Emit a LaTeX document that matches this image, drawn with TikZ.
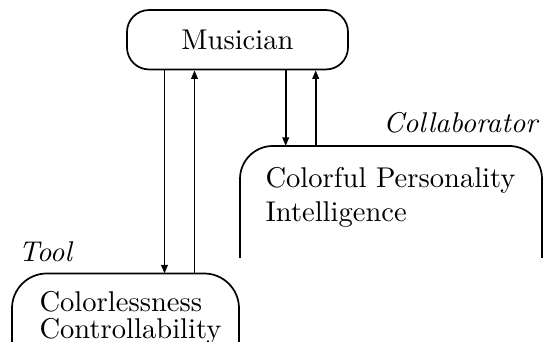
\documentclass[tikz,border=0pt]{standalone}
\usetikzlibrary{arrows.meta}
\begin{document}
\begin{tikzpicture}[x=0.35pt,y=-0.35pt,
  boxline/.style={line width=0.6pt},
  arr/.style={line width=0.6pt,-{Triangle[length=3pt,width=2.3pt]}},
  lbl/.style={inner sep=0pt,font=\itshape},
  body/.style={anchor=base west,inner sep=0pt}]
\useasboundingbox (0,0) rectangle (545,342);
% Musician
\node[boxline,draw,rounded corners=7.7pt,minimum width=77.35pt,minimum height=20.8pt,inner sep=0pt] (mus) at (237.5,39.75) {Musician};
% Collaborator box
\draw[boxline,rounded corners=11.5pt] (240,258) -- (240,146) -- (542,146) -- (542,258);
\coordinate (colin) at (285.7,146);
\coordinate (colout) at (315.7,146);
\node[lbl,anchor=base east] (collab) at (538,133) {Collaborator};
\node[body] (cp) at (265,188) {Colorful Personality};
\node[body] (ci) at (265,222) {Intelligence};
% Tool box
\draw[boxline,rounded corners=12.2pt] (12,345) -- (12,273.5) -- (239,273.5) -- (239,345);
\coordinate (toolin) at (164.5,273.5);
\coordinate (toolout) at (194.5,273.5);
\node[lbl,anchor=base west] (tool) at (18,262) {Tool};
\node[body] (tc) at (39,312) {Colorlessness};
\node[body] (tk) at (39,339) {Controllability};
% connectors
\draw[arr] (mus.south -| toolin) -- (toolin);
\draw[arr] (toolout) -- (mus.south -| toolout);
\draw[arr] (mus.south -| colin) -- (colin);
\draw[arr] (colout) -- (mus.south -| colout);
\end{tikzpicture}
\end{document}
